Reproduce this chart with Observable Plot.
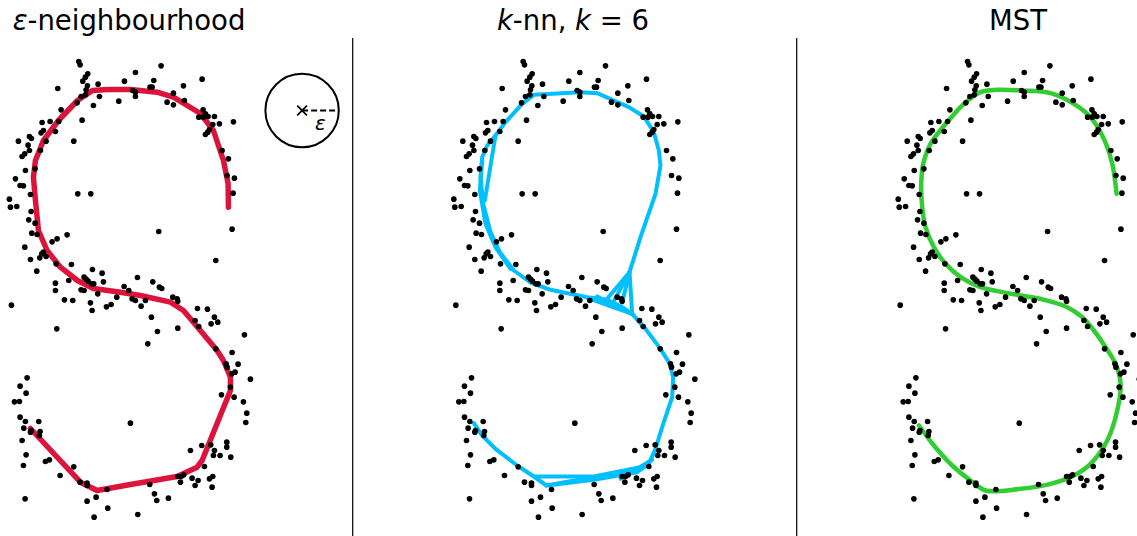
<!DOCTYPE html>
<html><head><meta charset="utf-8">
<script src="https://cdn.jsdelivr.net/npm/d3@7"></script>
<script src="https://cdn.jsdelivr.net/npm/@observablehq/plot@0.6"></script>
<style>
body{margin:0;background:#fff;}
#fig{position:relative;width:1137px;height:536px;overflow:hidden;font-family:"DejaVu Sans",sans-serif;background:#fff;}
.panel{position:absolute;top:0;height:536px;}
.title{position:absolute;top:4px;font-size:27.5px;white-space:nowrap;transform:translateX(-50%);color:#000;}
.plot{position:absolute;top:38px;left:0;}
</style></head>
<body><div id="fig"></div>
<script>
// Sample points (shared by the three panels)
const points = [
[248,33],[252,43],[495,46],[275,70],[268,80],[418,66],[473,90],[260,92],[385,92],[618,86],
[306,101],[185,114],[274,106],[270,118],[562,106],[462,110],[468,110],[410,120],[418,125],[418,138],
[532,128],[268,133],[255,138],[310,138],[243,157],[368,152],[292,165],[513,155],[532,163],[565,150],
[195,178],[621,178],[628,190],[608,200],[622,200],[636,198],[655,198],[650,222],[670,220],[712,214],
[258,209],[138,216],[162,213],[188,213],[640,237],[635,245],[628,252],[135,247],[142,240],[178,243],
[100,258],[106,264],[67,272],[233,272],[150,272],[96,284],[133,300],[100,300],[86,310],[78,318],
[678,300],[697,325],[117,355],[88,360],[58,385],[693,375],[715,383],[72,405],[82,406],[103,432],
[245,430],[284,430],[711,428],[40,446],[43,470],[62,468],[105,483],[98,508],[117,518],[708,536],
[488,543],[107,548],[123,552],[213,553],[183,565],[168,574],[86,590],[142,605],[137,610],[131,622],
[150,618],[103,627],[180,640],[122,662],[226,642],[659,630],[289,657],[318,668],[424,681],[264,680],
[270,686],[276,692],[286,700],[293,700],[178,698],[178,720],[218,690],[322,694],[470,694],[490,710],
[497,714],[384,708],[398,720],[255,718],[264,720],[305,730],[46,764],[362,740],[408,745],[418,750],
[448,750],[205,748],[230,750],[283,757],[530,740],[543,745],[545,752],[288,780],[345,762],[331,769],
[435,767],[604,774],[634,776],[466,800],[655,800],[665,815],[645,820],[597,810],[608,828],[182,835],
[484,843],[545,833],[745,853],[455,880],[659,895],[708,906],[690,940],[693,950],[726,941],[717,965],
[707,970],[763,986],[93,982],[72,1007],[90,1028],[55,1054],[70,1053],[676,1033],[703,1010],[714,1040],
[742,1054],[72,1100],[752,1088],[88,1113],[128,1113],[749,1116],[403,1118],[83,1133],[105,1140],[103,1145],
[132,1143],[130,1155],[78,1170],[692,1175],[692,1190],[583,1200],[617,1185],[644,1183],[90,1213],[655,1200],
[652,1215],[672,1215],[704,1220],[82,1245],[148,1233],[160,1228],[233,1249],[625,1248],[192,1275],[545,1278],
[555,1278],[563,1273],[588,1283],[606,1290],[640,1285],[650,1278],[252,1295],[273,1298],[273,1305],[553,1295],
[461,1302],[333,1317],[597,1305],[648,1310],[475,1330],[300,1340],[517,1343],[87,1345],[482,1350],[273,1352],
[335,1373],[425,1392],[294,1400]
];

// epsilon-neighbourhood path
const epsPath = [
[103,1134],[253,1295],[303,1320],[403,1302],[543,1278],[603,1250],[618,1230],[703,1020],[703,980],[682,930],
[663,900],[592,815],[562,780],[523,755],[433,735],[373,725],[292,714],[244,690],[193,650],[153,600],
[127,540],[118,450],[112,380],[118,330],[142,270],[187,210],[244,150],[289,120],[334,117],[403,117],
[483,125],[532,140],[613,189],[652,240],[682,330],[696,399],[697,470]
];

// k-nn graph edges (polylines)
const knnEdges = [
[[100,1118],[125,1155],[165,1195],[230,1245],[280,1278],[318,1305],[460,1288],[590,1265],[625,1240],[645,1195],[665,1130],[695,1040],[698,980],[688,940],[660,895],[615,835],[575,790]],
[[575,790],[545,770],[500,748],[440,740],[330,718],[270,696],[220,660],[178,605],[150,545],[128,460],[120,380],[125,320],[140,285],[165,255],[195,215],[245,160],[280,133],[420,125],[470,128],[520,150],[565,170],[610,198],[640,245],[655,300],[660,345],[645,430],[600,560],[567,665]],
[[567,665],[575,790]],
[[567,665],[500,745]],
[[567,665],[522,748]],
[[567,665],[545,756]],
[[440,742],[575,790]],
[[470,738],[575,790]],
[[165,255],[133,450]],
[[125,330],[118,420],[135,520],[165,590],[210,655]],
[[285,1278],[460,1278],[600,1250]],
[[318,1305],[600,1255]],
[[540,1285],[635,1228]]
];

// minimum spanning tree path
const mstPath = [
[102,1125],[147,1185],[202,1245],[257,1290],[302,1320],[407,1315],[497,1300],[567,1275],[617,1240],[667,1170],
[697,1080],[707,1000],[692,940],[662,890],[627,840],[592,800],[547,770],[477,748],[407,735],[337,722],
[287,710],[227,680],[182,640],[147,590],[122,530],[112,470],[109,400],[115,340],[137,280],[187,215],
[237,160],[287,125],[337,118],[407,120],[497,128],[567,160],[617,200],[657,265],[682,340],[695,430]
];

// epsilon-ball legend
const ballCenter = [918,180];
const ballRadius = 110;

const titles = ["<i>ε</i>-neighbourhood", "<i>k</i>-nn, <i>k</i> = 6", "MST"];
const panels = [
  {left:0, width:352, domain:[13.2,1069.2], titleX:129},
  {left:352, width:444, domain:[-264,1068], titleX:221},
  {left:796, width:341, domain:[-265.2,757.8], titleX:222}
];

const fig = document.getElementById("fig");
const px = d => d[0], py = d => d[1];

function dotsMark(){ return Plot.dot(points, {x:px, y:py, r:2.8, fill:"black"}); }

const panelMarks = [
  [
    Plot.line(epsPath, {x:px, y:py, stroke:"#DC143C", strokeWidth:5.5, strokeLinejoin:"round", strokeLinecap:"round"}),
    dotsMark(),
    Plot.dot([ballCenter], {x:px, y:py, r:36.7, stroke:"black", strokeWidth:2, fill:"none"}),
    Plot.link([ballCenter], {x1:px, y1:py, x2:d=>d[0]+ballRadius, y2:py, stroke:"black", strokeWidth:2.2, strokeDasharray:"6,3"}),
    Plot.dot([ballCenter], {x:px, y:py, symbol:"times", r:4.5, stroke:"black", strokeWidth:1.8}),
    Plot.text([ballCenter], {x:d=>d[0]+ballRadius/2, y:d=>d[1]+ballRadius*0.37, text:()=>"ε", fontSize:20, fontStyle:"italic", fontFamily:"DejaVu Sans", fill:"black"})
  ],
  [
    Plot.ruleX([panels[1].domain[0]], {stroke:"black", strokeWidth:1.2, dx:0.2}),
    Plot.line(knnEdges.flatMap((e,i)=>e.map(p=>({x:p[0], y:p[1], e:i}))), {x:"x", y:"y", z:"e", stroke:"#00BFFF", strokeWidth:4, strokeLinejoin:"round", strokeLinecap:"round"}),
    dotsMark()
  ],
  [
    Plot.ruleX([panels[2].domain[0]], {stroke:"black", strokeWidth:1.2, dx:0.2}),
    Plot.line(mstPath, {x:px, y:py, stroke:"#32CD32", strokeWidth:4.5, strokeLinejoin:"round", strokeLinecap:"round", curve:"catmull-rom"}),
    dotsMark()
  ]
];

panels.forEach((p, i) => {
  const div = document.createElement("div");
  div.className = "panel";
  div.style.left = p.left + "px";
  div.style.width = p.width + "px";
  const t = document.createElement("div");
  t.className = "title";
  t.style.left = p.titleX + "px";
  t.innerHTML = titles[i];
  div.appendChild(t);
  const chart = Plot.plot({
    width: p.width, height: 498, margin: 0,
    x: {domain: p.domain, range: [0, p.width], axis: null},
    y: {domain: [-36, 1458], range: [0, 498], axis: null},
    style: {background: "transparent", overflow: "visible"},
    marks: panelMarks[i]
  });
  chart.classList.add("plot");
  chart.style.position = "absolute";
  chart.style.top = "38px";
  chart.style.left = "0px";
  div.appendChild(chart);
  fig.appendChild(div);
});
</script></body></html>
